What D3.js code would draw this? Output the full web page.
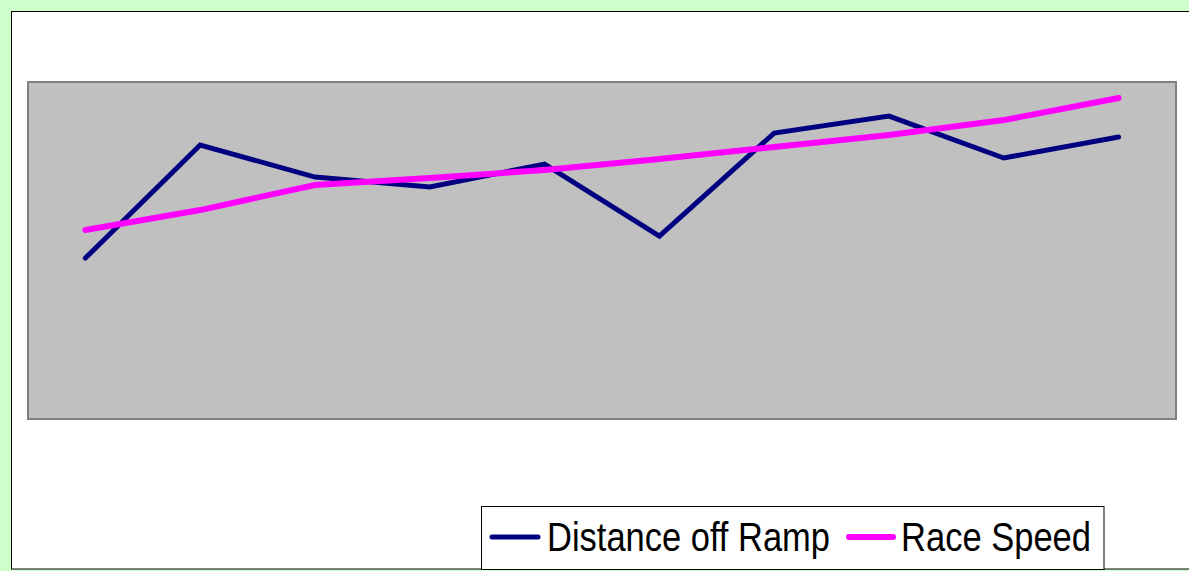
<!DOCTYPE html>
<html>
<head>
<meta charset="utf-8">
<script src="https://cdn.jsdelivr.net/npm/d3@7/dist/d3.min.js"></script>
<style>
  html, body { margin: 0; padding: 0; background: #ccffcc; }
  svg { display: block; }
</style>
</head>
<body>
<script>
// Ten races, two measured series
const races = ["1", "2", "3", "4", "5", "6", "7", "8", "9", "10"];
const distanceOffRamp = [9.55, 16.26, 14.36, 13.77, 15.13, 10.86, 16.97, 17.98, 15.49, 16.74];
const raceSpeed = [11.22, 12.40, 13.89, 14.30, 14.78, 15.43, 16.14, 16.85, 17.74, 19.05];
const seriesNames = ["Distance off Ramp", "Race Speed"];
const seriesColors = ["#000080", "#ff00ff"];

const W = 1189, H = 571;
const svg = d3.select("body").append("svg").attr("width", W).attr("height", H);

// Chart sheet: white area framed in black on the green page
svg.append("rect").attr("x", 0).attr("y", 0).attr("width", W).attr("height", H).attr("fill", "#ccffcc");
svg.append("rect")
  .attr("x", 11.5).attr("y", 11.5).attr("width", W + 10).attr("height", 557.5)
  .attr("fill", "#ffffff").attr("stroke", "#000").attr("stroke-width", 1);

// Plot area
const plot = { left: 28, top: 82, right: 1176, bottom: 419 };
svg.append("rect")
  .attr("x", plot.left).attr("y", plot.top)
  .attr("width", plot.right - plot.left).attr("height", plot.bottom - plot.top)
  .attr("fill", "#c0c0c0").attr("stroke", "#808080").attr("stroke-width", 2);

const x = d3.scalePoint().domain(races).range([plot.left, plot.right]).padding(0.5);
const y = d3.scaleLinear().domain([0, 20]).range([plot.bottom, plot.top]);

const line = d3.line().x((d, i) => x(races[i])).y(d => y(d));

const series = [distanceOffRamp, raceSpeed];
const widths = [5, 6];
series.forEach((vals, k) => {
  svg.append("path")
    .datum(vals)
    .attr("d", line)
    .attr("fill", "none")
    .attr("stroke", seriesColors[k])
    .attr("stroke-width", widths[k])
    .attr("stroke-linejoin", "miter")
    .attr("stroke-linecap", "round");
});

// Legend
const legend = svg.append("g");
legend.append("rect")
  .attr("x", 481.5).attr("y", 506.5).attr("width", 622.5).attr("height", 63)
  .attr("fill", "#fff").attr("stroke", "#000").attr("stroke-width", 1);

const legendItems = [
  { x1: 492, x2: 538, tx: 547, len: 283 },
  { x1: 849, x2: 893, tx: 901, len: 190 }
];
legendItems.forEach((it, k) => {
  legend.append("line")
    .attr("x1", it.x1).attr("x2", it.x2).attr("y1", 537).attr("y2", 537)
    .attr("stroke", seriesColors[k]).attr("stroke-width", widths[k])
    .attr("stroke-linecap", "round");
  legend.append("text")
    .attr("x", it.tx).attr("y", 551)
    .attr("font-family", "'Liberation Sans', Arial, sans-serif")
    .attr("font-size", 40)
    .attr("textLength", it.len)
    .attr("lengthAdjust", "spacingAndGlyphs")
    .attr("fill", "#000")
    .text(seriesNames[k]);
});
</script>
</body>
</html>
